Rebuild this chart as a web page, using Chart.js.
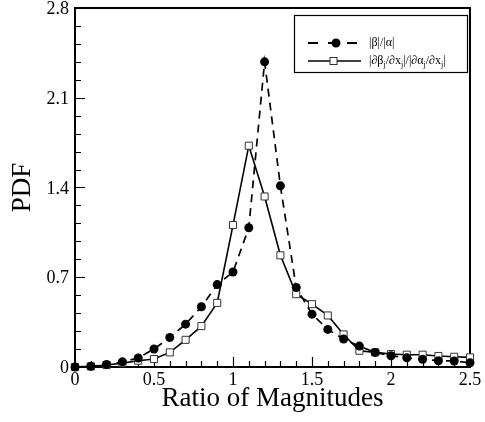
<!DOCTYPE html>
<html>
<head>
<meta charset="UTF-8">
<title>pdf-ratio-chart.js</title>
<style>
  body { margin: 0; background: #fff; }
  .canvas_box { width: 485px; height: 422px; }
</style>
<script src="https://cdn.jsdelivr.net/npm/chart.js@4.4.6/dist/chart.umd.min.js"></script>
</head>
<body>
<div class="canvas_box">
  <canvas id="myChart" width="485" height="422"></canvas>
</div>
<script>
// values
var ratios = [0, 0.1, 0.2, 0.3, 0.4, 0.5, 0.6, 0.7, 0.8, 0.9, 1.0, 1.1, 1.2,
              1.3, 1.4, 1.5, 1.6, 1.7, 1.8, 1.9, 2.0, 2.1, 2.2, 2.3, 2.4, 2.5];
var pdfBetaAlpha = [0, 0.005, 0.02, 0.04, 0.07, 0.14, 0.23, 0.334, 0.47, 0.643, 0.741, 1.086, 2.38,
                    1.413, 0.62, 0.412, 0.293, 0.218, 0.163, 0.114, 0.088, 0.072, 0.06, 0.049, 0.047, 0.033];
var pdfGradRatio = [0, 0.005, 0.015, 0.03, 0.049, 0.062, 0.114, 0.212, 0.319, 0.5, 1.107, 1.726, 1.33,
                    0.871, 0.568, 0.49, 0.402, 0.254, 0.127, 0.114, 0.101, 0.096, 0.096, 0.086, 0.08, 0.075];
var seriesLabels = ['|β|/|α|', '|∂β_j/∂x_j|/|∂α_j/∂x_j|'];
var xTicks = [0, 0.5, 1, 1.5, 2, 2.5];
var yTicks = [0, 0.7, 1.4, 2.1, 2.8];

var serif = "'Liberation Serif', 'Times New Roman', serif";

function toPoints(vals) {
  return vals.map(function(v, i) { return { x: ratios[i], y: v }; });
}

// box frame + inward ticks (major and minor)
var framePlugin = {
  id: 'frame',
  beforeDatasetsDraw: function(chart) {
    var a = chart.chartArea, c = chart.ctx;
    var xs = chart.scales.x, ys = chart.scales.y;
    c.save();
    c.strokeStyle = '#000';
    c.lineWidth = 1.2;
    c.beginPath();
    for (var i = 1; i < 25; i++) {
      var px = Math.round(xs.getPixelForValue(i / 10)) + 0.5;
      var len = (i % 5 === 0) ? 10 : 6;
      c.moveTo(px, a.bottom);
      c.lineTo(px, a.bottom - len);
    }
    for (var j = 1; j < 20; j++) {
      var py = Math.round(ys.getPixelForValue(j * 0.14)) + 0.5;
      var ylen = (j % 5 === 0) ? 10 : 6;
      c.moveTo(a.left, py);
      c.lineTo(a.left + ylen, py);
    }
    c.stroke();
    c.lineWidth = 2;
    c.strokeRect(a.left, a.top, a.right - a.left, a.bottom - a.top);
    c.restore();
  }
};

// text with _x subscripts
function drawSubText(c, str, x, y, size) {
  var parts = str.split('_');
  c.textBaseline = 'middle';
  c.textAlign = 'left';
  for (var i = 0; i < parts.length; i++) {
    var s = parts[i];
    if (i > 0) {
      c.font = Math.round(size * 0.7) + 'px ' + serif;
      c.fillText(s.charAt(0), x, y + size * 0.35);
      x += c.measureText(s.charAt(0)).width;
      s = s.substring(1);
    }
    c.font = size + 'px ' + serif;
    c.fillText(s, x, y);
    x += c.measureText(s).width;
  }
}

var legendPlugin = {
  id: 'boxLegend',
  afterDraw: function(chart) {
    var c = chart.ctx;
    var bx = 294, by = 15, bw = 173, bh = 57;
    c.save();
    c.fillStyle = '#fff';
    c.fillRect(bx, by, bw, bh);
    c.strokeStyle = '#000';
    c.lineWidth = 1.2;
    c.strokeRect(bx + 0.5, by + 0.5, bw, bh);

    // dashed + filled circle
    var y1 = 43;
    c.lineWidth = 1.8;
    c.beginPath();
    c.moveTo(308, y1); c.lineTo(318, y1);
    c.moveTo(328, y1); c.lineTo(338, y1);
    c.moveTo(347, y1); c.lineTo(357, y1);
    c.stroke();
    c.fillStyle = '#000';
    c.beginPath();
    c.arc(336, y1, 4.5, 0, Math.PI * 2);
    c.fill();
    drawSubText(c, seriesLabels[0], 369, y1, 12);

    // solid + open square
    var y2 = 61;
    c.lineWidth = 1.6;
    c.beginPath();
    c.moveTo(308, y2); c.lineTo(361, y2);
    c.stroke();
    c.fillStyle = '#fff';
    c.fillRect(330, y2 - 3.5, 7, 7);
    c.strokeStyle = '#333';
    c.lineWidth = 1;
    c.strokeRect(330, y2 - 3.5, 7, 7);
    c.fillStyle = '#000';
    drawSubText(c, seriesLabels[1], 369, y2, 12);
    c.restore();
  }
};

function noPad(scale) {
  scale.paddingTop = 0;
  scale.paddingBottom = 0;
  scale.paddingLeft = 0;
  scale.paddingRight = 0;
}

var ctx = document.getElementById('myChart');
var myChart = new Chart(ctx, {
  type: 'line',
  data: {
    datasets: [
      {
        label: seriesLabels[0],
        data: toPoints(pdfBetaAlpha),
        borderColor: '#000',
        borderWidth: 1.7,
        borderDash: [8, 6],
        pointStyle: 'circle',
        pointRadius: 4.5,
        pointBackgroundColor: '#000',
        pointBorderColor: '#000',
        pointBorderWidth: 0,
        tension: 0,
        clip: false
      },
      {
        label: seriesLabels[1],
        data: toPoints(pdfGradRatio),
        borderColor: '#000',
        borderWidth: 1.6,
        pointStyle: 'rect',
        pointRadius: 5,
        pointBackgroundColor: '#fff',
        pointBorderColor: '#333',
        pointBorderWidth: 1,
        tension: 0,
        clip: false
      }
    ]
  },
  options: {
    responsive: false,
    animation: false,
    layout: { padding: { top: 8, right: 15, left: 0, bottom: 0 } },
    plugins: {
      legend: { display: false },
      tooltip: { enabled: false }
    },
    scales: {
      x: {
        type: 'linear',
        min: 0,
        max: 2.5,
        grid: { display: false, drawTicks: false },
        border: { display: false },
        afterBuildTicks: function(scale) {
          scale.ticks = xTicks.map(function(v) { return { value: v }; });
        },
        afterFit: function(scale) { scale.height = 55; noPad(scale); },
        ticks: {
          padding: 2,
          color: '#000',
          font: { family: serif, size: 18 },
          callback: function(value) { return String(value); }
        },
        title: {
          display: true,
          text: 'Ratio of Magnitudes',
          color: '#000',
          padding: { top: 0, bottom: 7 },
          font: { family: serif, size: 27 }
        }
      },
      y: {
        type: 'linear',
        min: 0,
        max: 2.8,
        grid: { display: false, drawTicks: false },
        border: { display: false },
        afterBuildTicks: function(scale) {
          scale.ticks = yTicks.map(function(v) { return { value: v }; });
        },
        afterFit: function(scale) { scale.width = 75; noPad(scale); },
        ticks: {
          padding: 6,
          labelOffset: 1.5,
          color: '#000',
          font: { family: serif, size: 18 },
          callback: function(value) { return String(value); }
        },
        title: {
          display: true,
          text: 'PDF',
          color: '#000',
          padding: { top: 7, bottom: 0 },
          font: { family: serif, size: 27 }
        }
      }
    }
  },
  plugins: [framePlugin, legendPlugin]
});
</script>
</body>
</html>
